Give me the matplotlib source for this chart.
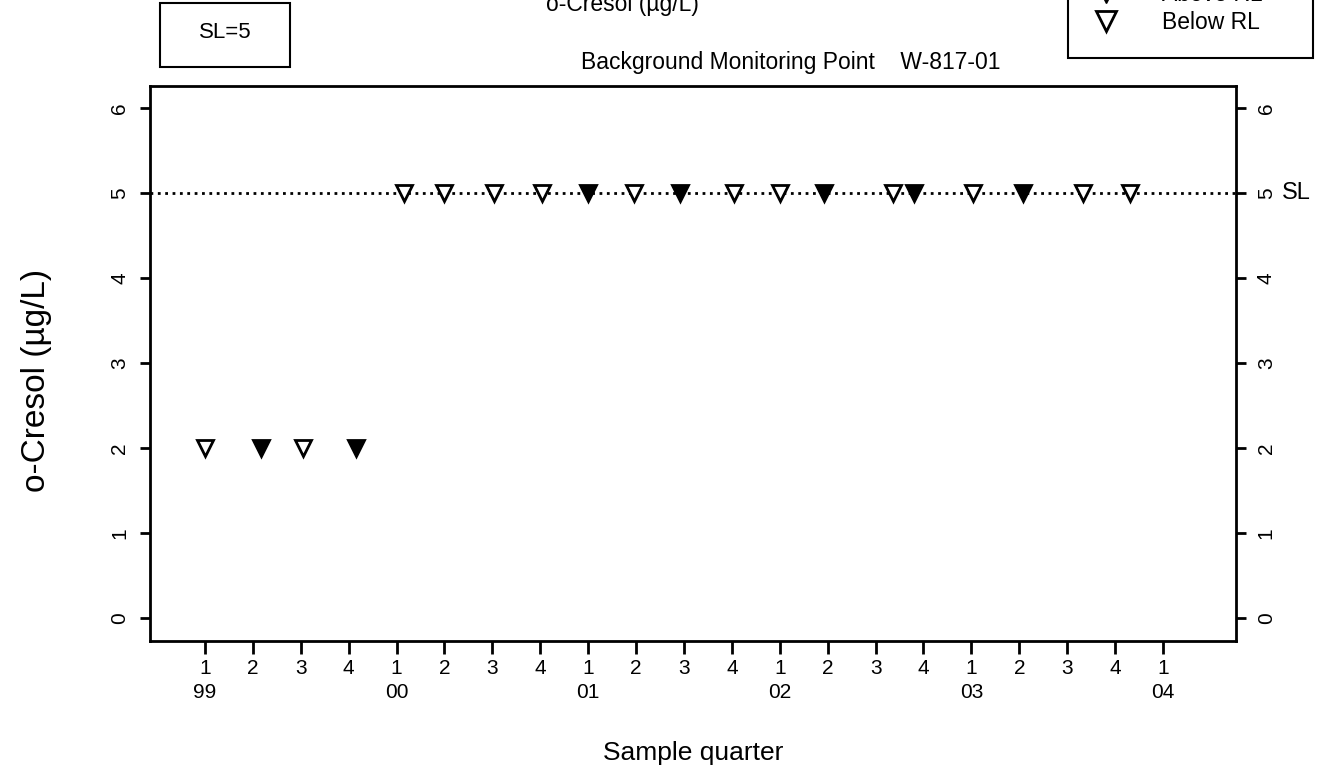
import matplotlib
matplotlib.use("Agg")
import matplotlib.pyplot as plt
from matplotlib.lines import Line2D
from matplotlib.patches import Rectangle

plt.rcParams['font.family'] = ['Liberation Sans', 'DejaVu Sans']

# sample dates (decimal year), concentrations and duplicate flags
dates = [1999.00, 1999.29, 1999.51, 1999.79,
         2000.04, 2000.25, 2000.51, 2000.76, 2001.00, 2001.24, 2001.48, 2001.76,
         2002.00, 2002.23, 2002.59, 2002.70, 2003.01, 2003.27, 2003.58, 2003.83]
values = [2, 2, 2, 2,
          5, 5, 5, 5, 5, 5, 5, 5,
          5, 5, 5, 5, 5, 5, 5, 5]
dup = [0, 1, 0, 1,
       0, 0, 0, 0, 1, 0, 1, 0,
       0, 1, 0, 1, 0, 1, 0, 0]
SL = 5

years = ['99', '00', '01', '02', '03', '04']
qpos = [1999 + i / 4 for i in range(21)]
qlabels = []
for i in range(21):
    q = i % 4 + 1
    if q == 1:
        qlabels.append('%d\n%s' % (q, years[i // 4]))
    else:
        qlabels.append(str(q))

fig = plt.figure(figsize=(13.28, 7.78), dpi=100)
ax = fig.add_axes([150 / 1328, 1 - 641 / 778, (1236 - 150) / 1328, (641 - 86) / 778])

ax.axhline(SL, color='black', linestyle=':', linewidth=2)
for d, v, f in zip(dates, values, dup):
    ax.plot(d, v, marker='v', markersize=12, markeredgewidth=2,
            markeredgecolor='black', markerfacecolor='black' if f else 'white',
            linestyle='none', zorder=3)

ax.set_xlim(1998.713, 2004.381)
ax.set_ylim(-0.27, 6.26)
ax.set_xticks(qpos)
ax.set_xticklabels(qlabels, fontsize=15, linespacing=1.35)
ax.set_yticks(range(7))
ax.tick_params(axis='x', direction='out', length=9, width=2, pad=4)
ax.tick_params(axis='y', direction='out', length=7, width=2, labelsize=15,
               right=True, labelright=True, pad=8)
for t in ax.yaxis.get_major_ticks():
    t.label1.set_rotation(90)
    t.label1.set_va('center')
    t.label2.set_rotation(90)
    t.label2.set_va('center')
for s in ax.spines.values():
    s.set_linewidth(2)

ax.text(1.042, SL, 'SL', transform=ax.get_yaxis_transform(), fontsize=17,
        va='center', ha='left')

ax.set_ylabel('o-Cresol (µg/L)', fontsize=24)
ax.yaxis.set_label_coords(-0.09, 0.47)
ax.set_xlabel('Sample quarter', fontsize=19, labelpad=28)

fig.text(622 / 1328, 1 - 5 / 778, 'o-Cresol (µg/L)', fontsize=16.5, ha='center', va='center')
fig.text(791 / 1328, 1 - 62 / 778, 'Background Monitoring Point    W-817-01',
         fontsize=16.5, ha='center', va='center')

# SL box
fig.add_artist(Rectangle((160 / 1328, 1 - 67 / 778), 130 / 1328, 64 / 778,
                         transform=fig.transFigure, fill=False, ec='black', lw=1.5))
fig.text(225 / 1328, 1 - 33 / 778, 'SL=5', fontsize=16, ha='center', va='center')

# legend
handles = [Line2D([], [], marker='v', color='black', markersize=15, linestyle='none'),
           Line2D([], [], marker='v', markerfacecolor='white', markeredgecolor='black',
                  markeredgewidth=2, markersize=15, linestyle='none')]
leg = fig.legend(handles, ['Above RL', 'Below RL'], loc='lower left', mode='expand',
                 bbox_to_anchor=(1068 / 1328, 1 - 58 / 778, 245 / 1328, 0.1),
                 bbox_transform=fig.transFigure, borderaxespad=0, fontsize=16.5,
                 handlelength=1.22, handletextpad=1.83, borderpad=1.05,
                 labelspacing=0.2, fancybox=False, edgecolor='black', framealpha=1)
leg.get_frame().set_linewidth(1.5)

fig.savefig('out.png', dpi=100)
